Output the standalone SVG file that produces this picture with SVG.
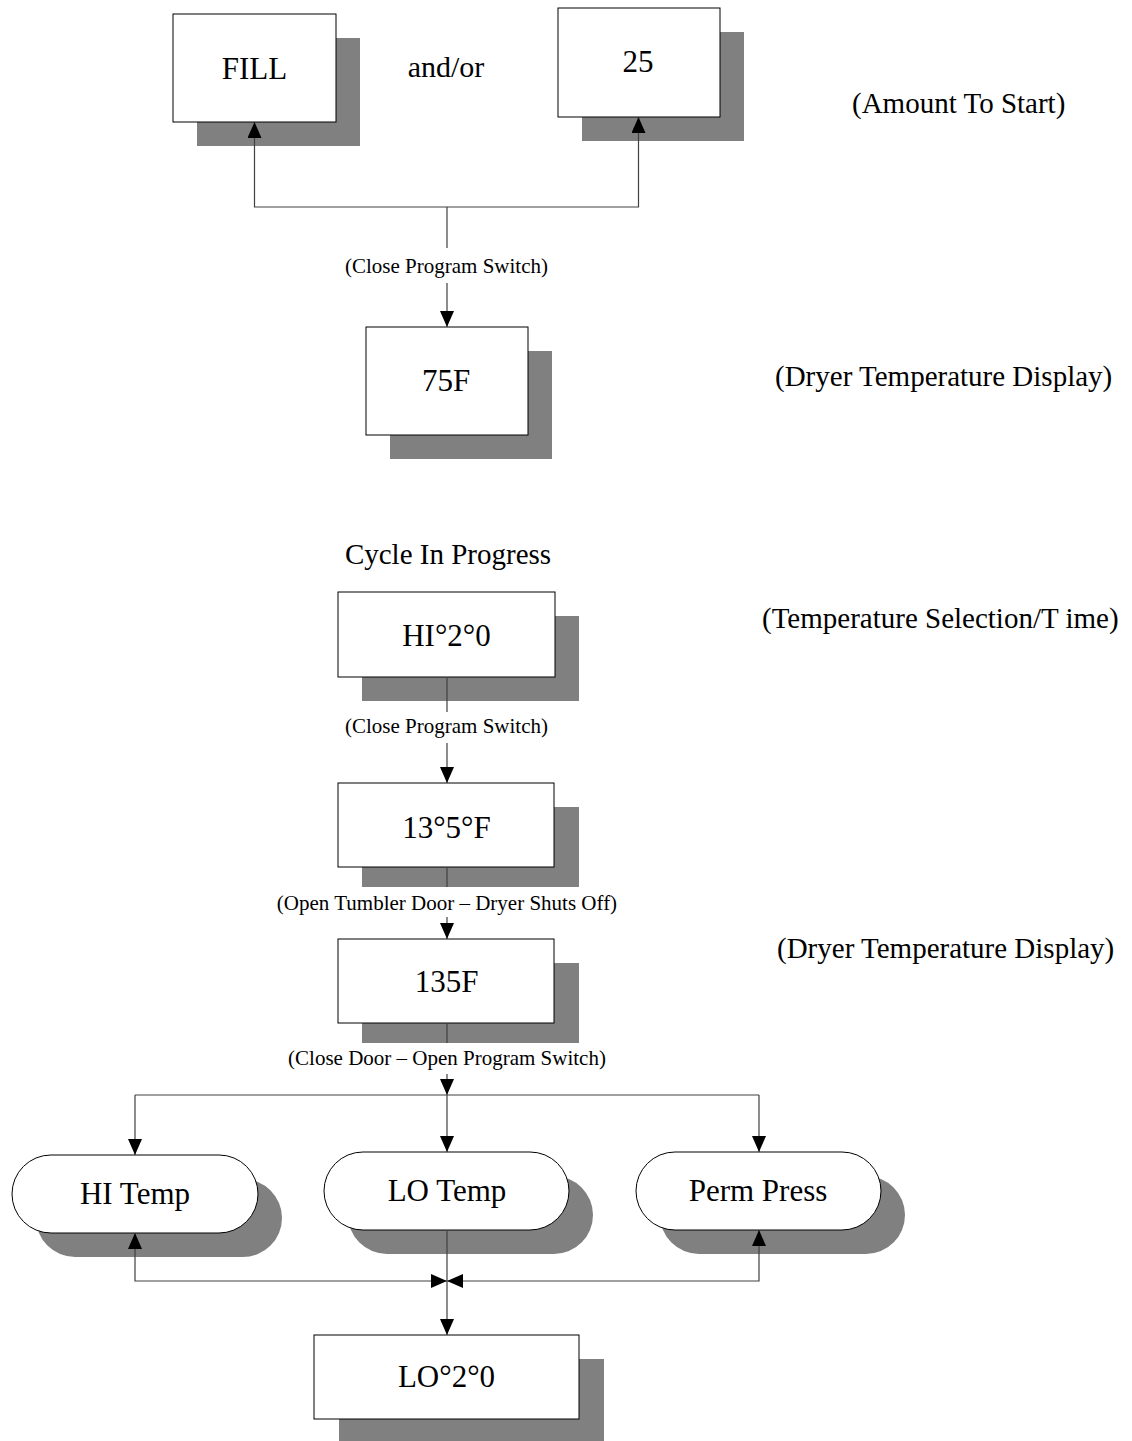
<svg xmlns="http://www.w3.org/2000/svg" width="1132" height="1441" viewBox="0 0 1132 1441">
  <style>
    .box { fill: #ffffff; stroke: #000000; stroke-width: 1; }
    .shadow { fill: #808080; stroke: none; }
    .t { font-family: "Liberation Serif", "Times New Roman", serif; fill: #000000; }
    .node { font-size: 31px; text-anchor: middle; }
    .lbl { font-size: 21px; text-anchor: middle; }
    .side { font-size: 29px; }
    .conn { fill: none; stroke: #404040; stroke-width: 1.2; }
    .bg { fill: #ffffff; stroke: none; }
  </style>
  <defs>
    <marker id="arr" markerUnits="userSpaceOnUse" markerWidth="16" markerHeight="14" refX="16" refY="7" orient="auto-start-reverse">
      <path d="M0,0 L16,7 L0,14 Z" fill="#000000"/>
    </marker>
  </defs>
  <rect x="0" y="0" width="1132" height="1441" fill="#ffffff"/>

  <!-- Nodes -->
  <g id="node-fill">
    <rect class="shadow" x="197" y="38" width="163" height="108"/>
    <rect class="box" x="173" y="14" width="163" height="108"/>
    <text class="t node" x="254.5" y="79">FILL</text>
  </g>
  <g id="node-25">
    <rect class="shadow" x="582" y="32" width="162" height="109"/>
    <rect class="box" x="558" y="8" width="162" height="109"/>
    <text class="t node" x="638" y="72">25</text>
  </g>
  <g id="node-75f">
    <rect class="shadow" x="390" y="351" width="162" height="108"/>
    <rect class="box" x="366" y="327" width="162" height="108"/>
    <text class="t node" x="446" y="391">75F</text>
  </g>
  <g id="node-hi20">
    <rect class="shadow" x="362" y="616" width="217" height="85"/>
    <rect class="box" x="338" y="592" width="217" height="85"/>
    <text class="t node" x="446.5" y="646">HI°2°0</text>
  </g>
  <g id="node-135deg">
    <rect class="shadow" x="362" y="807" width="217" height="84"/>
    <rect class="box" x="338" y="783" width="216" height="84"/>
    <text class="t node" x="446.5" y="838">13°5°F</text>
  </g>
  <g id="node-135f">
    <rect class="shadow" x="362" y="963" width="217" height="84"/>
    <rect class="box" x="338" y="939" width="216" height="84"/>
    <text class="t node" x="446.5" y="992">135F</text>
  </g>
  <g id="node-hitemp">
    <rect class="shadow" x="36" y="1179" width="246" height="78" rx="39" ry="39"/>
    <rect class="box" x="12" y="1155" width="246" height="78" rx="39" ry="39"/>
    <text class="t node" x="135" y="1204">HI Temp</text>
  </g>
  <g id="node-lotemp">
    <rect class="shadow" x="348" y="1176" width="245" height="78" rx="39" ry="39"/>
    <rect class="box" x="324" y="1152" width="245" height="78" rx="39" ry="39"/>
    <text class="t node" x="447" y="1201">LO Temp</text>
  </g>
  <g id="node-permpress">
    <rect class="shadow" x="660" y="1176" width="245" height="78" rx="39" ry="39"/>
    <rect class="box" x="636" y="1152" width="245" height="78" rx="39" ry="39"/>
    <text class="t node" x="758" y="1201">Perm Press</text>
  </g>
  <g id="node-lo20">
    <rect class="shadow" x="339" y="1359" width="265" height="90"/>
    <rect class="box" x="314" y="1335" width="265" height="84"/>
    <text class="t node" x="446.5" y="1387">LO°2°0</text>
  </g>

  <!-- Connectors -->
  <g id="connectors">
    <polyline class="conn" points="254.5,122 254.5,207 638.5,207 638.5,117" marker-start="url(#arr)" marker-end="url(#arr)"/>
    <line class="conn" x1="447" y1="207" x2="447" y2="327" marker-end="url(#arr)"/>
    <line class="conn" x1="447" y1="677" x2="447" y2="783" marker-end="url(#arr)"/>
    <line class="conn" x1="447" y1="867" x2="447" y2="939" marker-end="url(#arr)"/>
    <line class="conn" x1="447" y1="1023" x2="447" y2="1095" marker-end="url(#arr)"/>
    <line class="conn" x1="135" y1="1095" x2="759" y2="1095"/>
    <line class="conn" x1="135" y1="1095" x2="135" y2="1155" marker-end="url(#arr)"/>
    <line class="conn" x1="447" y1="1095" x2="447" y2="1152" marker-end="url(#arr)"/>
    <line class="conn" x1="759" y1="1095" x2="759" y2="1152" marker-end="url(#arr)"/>
    <polyline class="conn" points="135,1233 135,1281 447,1281" marker-start="url(#arr)" marker-end="url(#arr)"/>
    <polyline class="conn" points="759,1230 759,1281 447,1281" marker-start="url(#arr)" marker-end="url(#arr)"/>
    <line class="conn" x1="447" y1="1230" x2="447" y2="1335" marker-end="url(#arr)"/>

    <rect class="bg" x="340" y="248" width="213" height="35"/>
    <text class="t lbl" x="446.5" y="273">(Close Program Switch)</text>
    <rect class="bg" x="340" y="712" width="213" height="31"/>
    <text class="t lbl" x="446.5" y="733">(Close Program Switch)</text>
    <rect class="bg" x="268" y="887" width="360" height="30"/>
    <text class="t lbl" x="447" y="910">(Open Tumbler Door – Dryer Shuts Off)</text>
    <rect class="bg" x="282" y="1043" width="330" height="31"/>
    <text class="t lbl" x="447" y="1065">(Close Door – Open Program Switch)</text>
  </g>

  <!-- Free text -->
  <g id="annotations">
    <text class="t" x="446" y="77" font-size="30" text-anchor="middle">and/or</text>
    <text class="t side" x="448" y="564" text-anchor="middle">Cycle In Progress</text>
    <text class="t side" x="852" y="113">(Amount To Start)</text>
    <text class="t side" x="775" y="386">(Dryer Temperature Display)</text>
    <text class="t side" x="762" y="628">(Temperature Selection/T ime)</text>
    <text class="t side" x="777" y="958">(Dryer Temperature Display)</text>
  </g>
</svg>
